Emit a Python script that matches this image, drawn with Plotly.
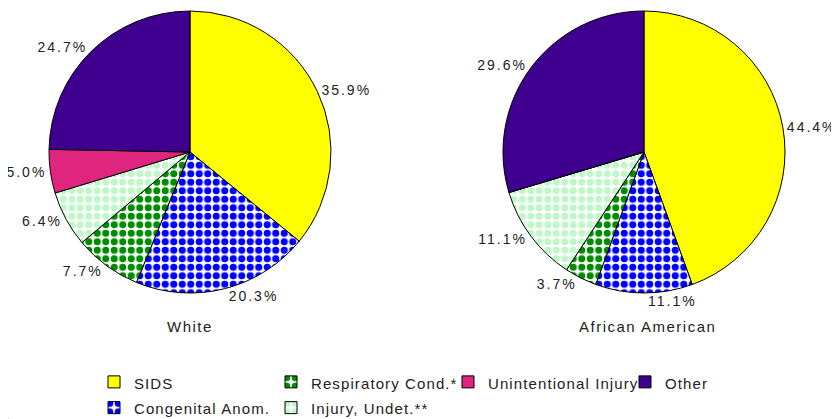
import plotly.graph_objects as go

# data (percent of deaths)
categories = ["SIDS", "Congenital Anom.", "Respiratory Cond.*", "Injury, Undet.**",
              "Unintentional Injury", "Other"]
white_pct = [35.9, 20.3, 7.7, 6.4, 5.0, 24.7]
african_american_pct = [44.4, 11.1, 3.7, 11.1, 0.0, 29.6]
groups = ["White", "African American"]
legend_order = ["SIDS", "Respiratory Cond.*", "Unintentional Injury", "Other",
                "Congenital Anom.", "Injury, Undet.**"]

styles = {
    "SIDS": dict(color="#ffff00", shape=""),
    "Congenital Anom.": dict(color="#0000ff", shape="."),
    "Respiratory Cond.*": dict(color="#008c00", shape="."),
    "Injury, Undet.**": dict(color="#bff7c6", shape="."),
    "Unintentional Injury": dict(color="#e0257f", shape=""),
    "Other": dict(color="#3f0090", shape=""),
}

# the page body keeps an 8px margin, so the figure is drawn 8px in from the corner
PAGE_MARGIN = 8
W, H = 839 - PAGE_MARGIN, 419 - PAGE_MARGIN
FONT = "Liberation Sans, Arial, sans-serif"


def fx(px):
    return (px - PAGE_MARGIN) / W


def fy(py):
    return 1 - (py - PAGE_MARGIN) / H


def spaced(s, px, size=None):
    style = f"letter-spacing:{px}px"
    if size:
        style += f";font-size:{size}px"
    return f'<span style="{style}">{s}</span>'


def marker_for(labels):
    colors, shapes, fg, bg = [], [], [], []
    for lab in labels:
        st = styles[lab]
        if st["shape"]:
            colors.append("white")
            shapes.append(st["shape"])
            fg.append(st["color"])
            bg.append("white")
        else:
            colors.append(st["color"])
            shapes.append("")
            fg.append(st["color"])
            bg.append(st["color"])
    return dict(
        colors=colors,
        line=dict(color="black", width=1),
        pattern=dict(shape=shapes, fgcolor=fg, bgcolor=bg, size=8.5,
                     solidity=0.55, fillmode="replace", fgopacity=1),
    )


def px_domain(cx, cy, r):
    return dict(x=[fx(cx - r), fx(cx + r)], y=[fy(cy + r), fy(cy - r)])


fig = go.Figure()

# tiny pie that only sets the legend order
names = {lab: spaced(lab, 1.1, 15) for lab in categories}
fig.add_trace(go.Pie(
    labels=[names[l] for l in legend_order],
    values=[1] * len(legend_order),
    sort=False,
    marker=marker_for(legend_order),
    textinfo="none",
    hoverinfo="skip",
    domain=dict(x=[0, 0.0001], y=[0, 0.0001]),
))

centers = [(190, 152), (644, 152)]
for vals, (cx, cy) in zip([white_pct, african_american_pct], centers):
    fig.add_trace(go.Pie(
        labels=[names[l] for l in categories],
        values=vals,
        sort=False,
        direction="clockwise",
        rotation=0,
        marker=marker_for(categories),
        text=[spaced(f"{v:.1f}%", 2) if v else "" for v in vals],
        textinfo="text",
        textposition="outside",
        outsidetextfont=dict(family=FONT, size=14, color="#222222"),
        domain=px_domain(cx, cy, 141),
    ))

for name, x in zip(groups, [190, 647]):
    fig.add_annotation(
        x=fx(x), y=fy(326), xref="paper", yref="paper",
        xanchor="center", yanchor="middle",
        text=spaced(name, 1.5), showarrow=False,
        font=dict(family=FONT, size=15, color="#222222"),
    )

fig.update_layout(
    width=W, height=H,
    margin=dict(l=0, r=0, t=0, b=0, autoexpand=False),
    paper_bgcolor="white",
    plot_bgcolor="white",
    font=dict(family=FONT, size=15, color="#222222"),
    showlegend=True,
    legend=dict(
        orientation="h",
        x=fx(94), y=fy(364),
        xanchor="left", yanchor="top",
        entrywidth=132, entrywidthmode="pixels",
        font=dict(family=FONT, size=17.5, color="#222222"),
        itemclick=False,
    ),
)

fig.write_html("out.html")
